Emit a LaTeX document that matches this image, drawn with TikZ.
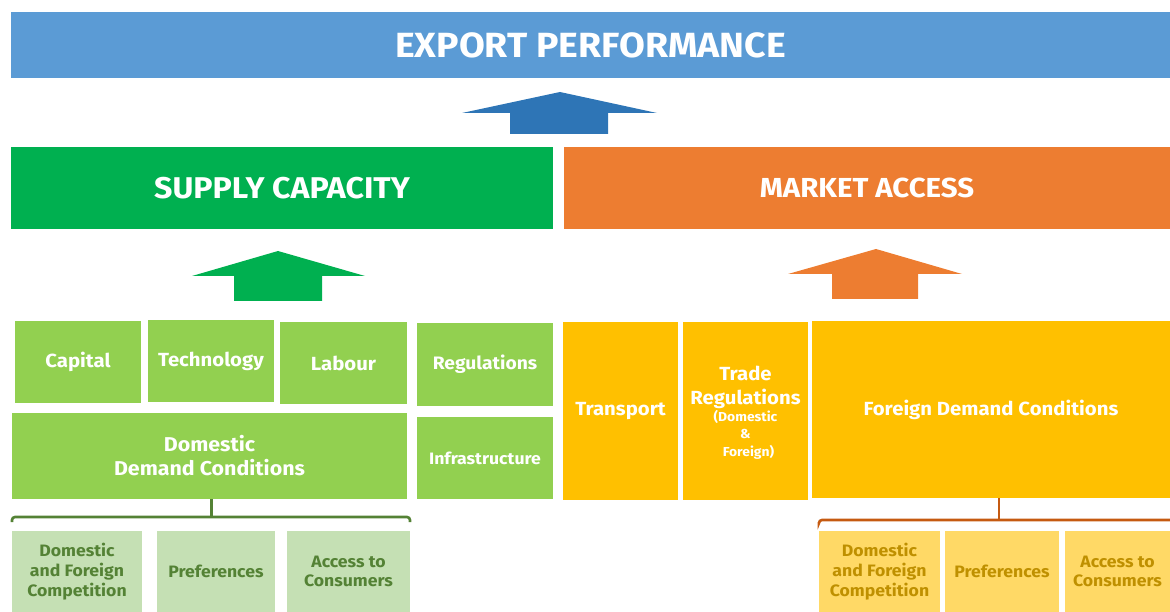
\documentclass[tikz,border=0pt]{standalone}
\usepackage{fontspec}
\setmainfont{Fira Sans}[FakeStretch=1.07]
\usetikzlibrary{calc}

\definecolor{bannerblue}{HTML}{5B9BD5}
\definecolor{arrowblue}{HTML}{2E75B6}
\definecolor{supplygreen}{HTML}{00B050}
\definecolor{marketorange}{HTML}{ED7D31}
\definecolor{factorgreen}{HTML}{92D050}
\definecolor{palegreen}{HTML}{C5E0B4}
\definecolor{darkgreen}{HTML}{548235}
\definecolor{accessgold}{HTML}{FFC000}
\definecolor{paleyellow}{HTML}{FFD966}
\definecolor{darkgold}{HTML}{BF9000}
\definecolor{rust}{HTML}{C55A11}

\newcommand\fsz[1]{\fontsize{#1bp}{1.2\dimexpr#1bp\relax}\selectfont}

\tikzset{
  cell/.style={inner sep=0pt, outer sep=0pt, draw=none, align=center,
    text=white, font=\bfseries\fsz{19}},
  headline/.style={cell, font=\bfseries\fsz{30}},
  factor/.style={cell, fill=factorgreen},
  access/.style={cell, fill=accessgold},
  subgreen/.style={cell, fill=palegreen, text=darkgreen, font=\bfseries\fsz{16.5}},
  subgold/.style={cell, fill=paleyellow, text=darkgold, font=\bfseries\fsz{16.5}},
  bracket/.style={line width=2.6bp, rounded corners=3bp},
}

\begin{document}
\begin{tikzpicture}[x=1bp, y=-1bp]
\useasboundingbox (0,0) rectangle (1170,612);

% top banner and the two pillars
\node[headline, fill=bannerblue, minimum width=1159bp, minimum height=66bp, font=\bfseries\fsz{35}]
  (export) at (590.5,45) {EXPORT PERFORMANCE};
\node[headline, fill=supplygreen, minimum width=542bp, minimum height=82bp]
  (supply) at (282,188) {SUPPLY CAPACITY};
\node[headline, fill=marketorange, minimum width=606bp, minimum height=82bp, font=\bfseries\fsz{27.5}]
  (market) at (867,188) {MARKET ACCESS};

% block arrows
\fill[arrowblue] (560,92) -- (657,113) -- (608,113) -- (608,134)
  -- (510,134) -- (510,113) -- (462,113) -- cycle;
\fill[supplygreen] (278,251) -- (365,276) -- (322,276) -- (322,301)
  -- (234,301) -- (234,276) -- (192,276) -- cycle;
\fill[marketorange] (876,249) -- (962,274) -- (918,274) -- (918,299)
  -- (832,299) -- (832,274) -- (788,274) -- cycle;

% supply capacity factors
\node[factor, minimum width=126bp, minimum height=82bp] (capital) at (78,362) {Capital};
\node[factor, minimum width=126bp, minimum height=82bp] (technology) at (211,361) {Technology};
\node[factor, minimum width=127bp, minimum height=82bp] (labour) at (343.5,363) {Labour};
\node[factor, minimum width=136bp, minimum height=83bp, font=\bfseries\fsz{18}] (regulations) at (485,364.5) {Regulations};
\node[factor, minimum width=395bp, minimum height=86bp, font=\bfseries\fsz{20}]
  (ddc) at (209.5,456) {Domestic\\Demand Conditions};
\node[factor, minimum width=136bp, minimum height=82bp, font=\bfseries\fsz{16.5}]
  (infra) at (485,458) {Infrastructure};

% market access factors
\node[access, minimum width=115bp, minimum height=178bp] (transport) at (620.5,411) {Transport};
\node[access, minimum width=125bp, minimum height=178bp] (trade) at (745.5,411) {};
\node[cell, anchor=north, font=\bfseries\fsz{19}] (tradetitle) at (745.5,366)
  {Trade\\[1bp]Regulations};
\node[cell, anchor=north, font=\bfseries\fsz{13}] (tradescope) at (745.5,410)
  {(Domestic\\[2bp]\&\\[2bp]\hspace{6bp}Foreign)};
\node[access, minimum width=358bp, minimum height=177bp] (fdc) at (991,409.5) {Foreign Demand Conditions};

% demand sub-factors
\node[subgreen, minimum width=130bp, minimum height=81bp] (gcomp) at (77,571.5) {Domestic\\and Foreign\\Competition};
\node[subgreen, minimum width=118bp, minimum height=81bp] (gpref) at (216,571.5) {Preferences};
\node[subgreen, minimum width=123bp, minimum height=81bp] (gcons) at (348.5,571.5) {Access to\\Consumers};

\node[subgold, minimum width=121bp, minimum height=81bp] (ycomp) at (879.5,571.5) {Domestic\\and Foreign\\Competition};
\node[subgold, minimum width=114bp, minimum height=81bp] (ypref) at (1002,571.5) {Preferences};
\node[subgold, minimum width=105bp, minimum height=81bp] (ycons) at (1117.5,571.5) {Access to\\Consumers};

% brackets
\draw[bracket, darkgreen] ([yshift=9bp]gcomp.north west) -- ([yshift=14bp]gcomp.north west)
  -- ([yshift=14bp]gcons.north east) -- ([yshift=9bp]gcons.north east);
\draw[line width=2.6bp, darkgreen] ([xshift=2bp]ddc.south) -- ([xshift=2bp]ddc.south |- 0,517);

\draw[bracket, rust] ([yshift=9bp]ycomp.north west) -- ([yshift=11bp]ycomp.north west)
  -- ([yshift=11bp]ycomp.north west -| ycons.north east) -- ([xshift=10bp,yshift=11bp]ycons.north east);
\draw[line width=2.6bp, rust] ([xshift=8bp]fdc.south) -- ([xshift=8bp]fdc.south |- 0,520);
\end{tikzpicture}
\end{document}
